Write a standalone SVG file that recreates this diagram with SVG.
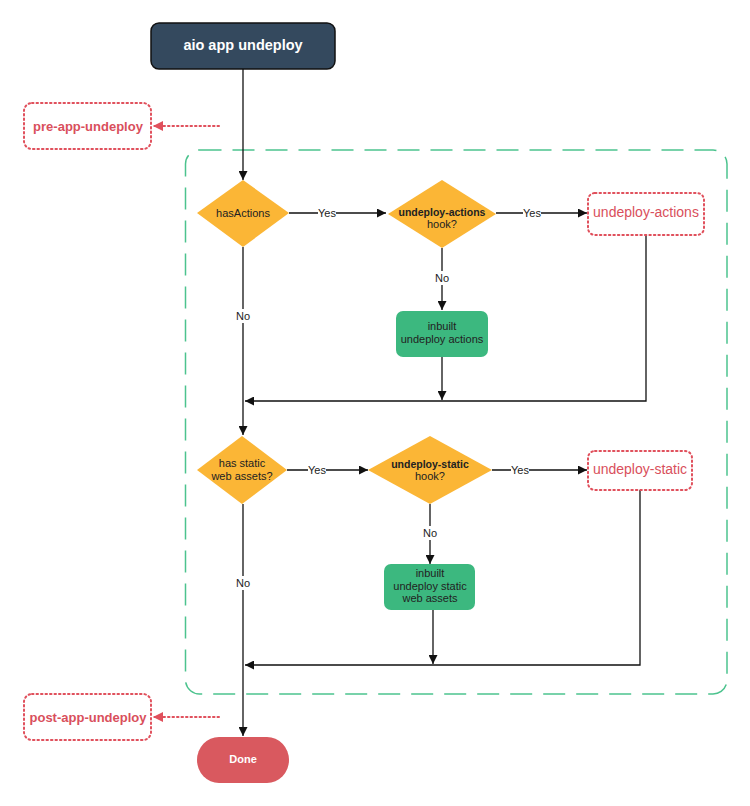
<svg xmlns="http://www.w3.org/2000/svg" width="750" height="806" viewBox="0 0 750 806">
<style>
text{font-family:"Liberation Sans",Arial,sans-serif;text-anchor:middle;dominant-baseline:central}
.dia{fill:#fbb636;stroke:none}
.lbl{font-size:11px;fill:#222}
.b{font-weight:bold;font-size:10.5px}
.edge{fill:none;stroke:#111;stroke-width:1.3}
.hook{fill:#fff;stroke:#e0505c;stroke-width:2;stroke-dasharray:1.5 3;stroke-linecap:round}
.hooktxt{fill:#d94f5c;font-size:14px}
.green{fill:#3cb87f;stroke:none}
.elab{font-size:11px;fill:#222}
.dot{fill:none;stroke:#e0505c;stroke-width:2;stroke-dasharray:1.5 3;stroke-linecap:round}
</style>
<defs>
<marker id="arr" viewBox="0 0 10 10" refX="10" refY="5" markerWidth="9" markerHeight="9" markerUnits="userSpaceOnUse" orient="auto"><path d="M0,0 L10,5 L0,10 z" fill="#111"/></marker>
<marker id="arrR" viewBox="0 0 10 10" refX="10" refY="5" markerWidth="10" markerHeight="10" markerUnits="userSpaceOnUse" orient="auto"><path d="M0,0 L10,5 L0,10 z" fill="#e0505c"/></marker>
</defs>
<rect x="185.5" y="150" width="541.5" height="544" rx="14" fill="none" stroke="#4cc38e" stroke-width="1.5" stroke-dasharray="22 11"/>
<g id="connectors">
<path class="edge" d="M243,69 V180" marker-end="url(#arr)"/>
<path class="dot" d="M219,126 H153" marker-end="url(#arrR)"/>
<path class="edge" d="M289,213 H386" marker-end="url(#arr)"/>
<rect x="318" y="206" width="18" height="14" fill="#fff"/>
<text class="elab" x="327" y="213">Yes</text>
<path class="edge" d="M496,213 H587" marker-end="url(#arr)"/>
<rect x="523" y="206" width="18" height="14" fill="#fff"/>
<text class="elab" x="532" y="213">Yes</text>
<path class="edge" d="M442,248 V310" marker-end="url(#arr)"/>
<rect x="434" y="271" width="16" height="14" fill="#fff"/>
<text class="elab" x="442" y="278">No</text>
<path class="edge" d="M442,357 V400" marker-end="url(#arr)"/>
<path class="edge" d="M646,235 V401 H245" marker-end="url(#arr)"/>
<path class="edge" d="M243,247 V435" marker-end="url(#arr)"/>
<rect x="235" y="309" width="16" height="14" fill="#fff"/>
<text class="elab" x="243" y="316">No</text>
<path class="edge" d="M287,470 H368" marker-end="url(#arr)"/>
<rect x="308" y="463" width="18" height="14" fill="#fff"/>
<text class="elab" x="317" y="470">Yes</text>
<path class="edge" d="M492,470 H587" marker-end="url(#arr)"/>
<rect x="511" y="463" width="18" height="14" fill="#fff"/>
<text class="elab" x="520" y="470">Yes</text>
<path class="edge" d="M430,504 V564" marker-end="url(#arr)"/>
<rect x="422" y="526" width="16" height="14" fill="#fff"/>
<text class="elab" x="430" y="533">No</text>
<path class="edge" d="M433,610 V664" marker-end="url(#arr)"/>
<path class="edge" d="M640,490 V665 H245" marker-end="url(#arr)"/>
<path class="edge" d="M243,504 V736" marker-end="url(#arr)"/>
<rect x="235" y="576" width="16" height="14" fill="#fff"/>
<text class="elab" x="243" y="583">No</text>
<path class="dot" d="M219,717 H153" marker-end="url(#arrR)"/>
</g>
<g id="start">
<rect x="151" y="23" width="184" height="46" rx="8" fill="#34495e" stroke="#111" stroke-width="1.5"/>
<text x="243" y="45" fill="#fff" font-size="14.5" font-weight="bold">aio app undeploy</text>
</g>
<g id="pre-app-undeploy">
<rect class="hook" x="24" y="103" width="127" height="46" rx="8"/>
<text class="hooktxt" x="88" y="126" font-weight="bold" style="font-size:13px">pre-app-undeploy</text>
</g>
<g id="hasActions">
<polygon class="dia" points="243,180 289,213 243,247 197,213"/>
<text class="lbl" x="243" y="213">hasActions</text>
</g>
<g id="actionsHook">
<polygon class="dia" points="442,180 496,214 442,248 388,214"/>
<text class="lbl b" x="442" y="212">undeploy-actions</text>
<text class="lbl" x="442" y="224">hook?</text>
</g>
<g id="undeploy-actions">
<rect class="hook" x="588" y="193" width="116" height="42" rx="7"/>
<text class="hooktxt" x="646" y="212">undeploy-actions</text>
</g>
<g id="inbuiltActions">
<rect class="green" x="396" y="311" width="92" height="46" rx="7"/>
<text class="lbl" x="442" y="326">inbuilt</text>
<text class="lbl" x="442" y="339">undeploy actions</text>
</g>
<g id="hasStatic">
<polygon class="dia" points="242,436 287,470 242,504 197,470"/>
<text class="lbl" x="242" y="463">has static</text>
<text class="lbl" x="242" y="476">web assets?</text>
</g>
<g id="staticHook">
<polygon class="dia" points="430,436 492,470 430,504 368,470"/>
<text class="lbl b" x="430" y="464">undeploy-static</text>
<text class="lbl" x="430" y="476">hook?</text>
</g>
<g id="undeploy-static">
<rect class="hook" x="588" y="451" width="104" height="39" rx="7"/>
<text class="hooktxt" x="640" y="469">undeploy-static</text>
</g>
<g id="inbuiltStatic">
<rect class="green" x="384" y="564" width="91" height="46" rx="7"/>
<text class="lbl" x="430" y="573">inbuilt</text>
<text class="lbl" x="430" y="586">undeploy static</text>
<text class="lbl" x="430" y="598">web assets</text>
</g>
<g id="post-app-undeploy">
<rect class="hook" x="24" y="694" width="127" height="46" rx="8"/>
<text class="hooktxt" x="88" y="717" font-weight="bold" style="font-size:13px">post-app-undeploy</text>
</g>
<g id="done">
<rect x="197" y="737" width="92" height="46" rx="22" ry="23" fill="#d9595f"/>
<text x="243" y="759" fill="#fff" font-size="11" font-weight="bold">Done</text>
</g>
</svg>
